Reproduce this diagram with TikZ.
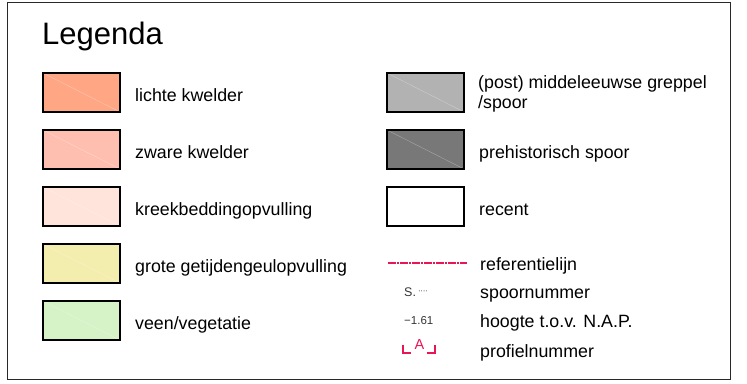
\documentclass[tikz,border=0pt]{standalone}
\usepackage{fontspec}
\setmainfont{Liberation Sans}
\usepackage{xcolor}
\definecolor{lgsalmon}{RGB}{255,166,132}
\definecolor{lgrose}{RGB}{255,191,176}
\definecolor{lgblush}{RGB}{255,228,220}
\definecolor{lgsand}{RGB}{243,237,174}
\definecolor{lgmoss}{RGB}{214,242,199}
\definecolor{lgsilver}{RGB}{178,178,178}
\definecolor{lgslate}{RGB}{120,120,120}
\definecolor{lgred}{RGB}{232,22,84}
\definecolor{lgframe}{RGB}{40,40,40}
\usetikzlibrary{positioning}

\begin{document}
\begin{tikzpicture}[x=1pt,y=-1pt,
    swatch/.style={draw=black,line width=1.5pt,minimum width=77pt,minimum height=39pt,
      inner sep=0pt,
      path picture={\draw[white,opacity=.35,line width=.4pt]
        (path picture bounding box.north west) -- (path picture bounding box.south east);}},
    label/.style={anchor=base west,inner sep=0pt,font=\fontsize{17.8}{19}\selectfont,align=left},
    small/.style={anchor=base west,inner sep=0pt,text=black!80},
    refline/.style={lgred,line width=1.4pt,dash pattern=on 8pt off 1.2pt on 1.6pt off 1.2pt}]
  \useasboundingbox (0,0) rectangle (747,383);
  %% Frame
  \draw[lgframe,line width=1pt] (7,2) rectangle (730,379);
  \node[anchor=base west,inner sep=0pt,font=\fontsize{31}{31}\selectfont] (title) at (42,44) {Legenda};
  %% Left column
  \node[swatch,fill=lgsalmon] (sw1) at (81.5,92.5) {};
  \node[label] (lb1) at (135,101) {lichte kwelder};
  \node[swatch,fill=lgrose] (sw2) at (81.5,149.5) {};
  \node[label] (lb2) at (135,158) {zware kwelder};
  \node[swatch,fill=lgblush] (sw3) at (81.5,206.5) {};
  \node[label] (lb3) at (135,215) {kreekbeddingopvulling};
  \node[swatch,fill=lgsand] (sw4) at (81.5,263.5) {};
  \node[label] (lb4) at (135,272) {grote getijdengeulopvulling};
  \node[swatch,fill=lgmoss] (sw5) at (81.5,320.5) {};
  \node[label] (lb5) at (135,329) {veen/vegetatie};
  %% Right column
  \node[swatch,fill=lgsilver] (sw6) at (425.5,92.5) {};
  \node[label,font=\fontsize{17.8}{20}\selectfont] (lb6) at (478,108.5) {(post) middeleeuwse greppel\\/spoor};
  \node[swatch,fill=lgslate] (sw7) at (425.5,149.5) {};
  \node[label] (lb7) at (479,158) {prehistorisch spoor};
  \node[swatch,fill=white] (sw8) at (425.5,206.5) {};
  \node[label] (lb8) at (479,215) {recent};
  %% Symbols
  \coordinate (refa) at (388,263);
  \coordinate (refb) at (467,263);
  \draw[refline] (refa) -- (refb);
  \node[label] (lb9) at (480,270) {referentielijn};
  \node[small,font=\fontsize{12.5}{12.5}\selectfont] (spnr) at (404,296)
    {S.\,{\fontsize{8}{8}\selectfont\raisebox{3pt}{·\kern-.3pt·\kern-.3pt·\kern-.3pt·}}};
  \node[label] (lb10) at (480,298) {spoornummer};
  \node[small,font=\fontsize{11.5}{11.5}\selectfont] (hgt) at (404,324) {−1.61};
  \node[label] (lb11) at (480,327) {hoogte t.o.v. N.A.P.};
  \node[small,text=lgred,font=\fontsize{14.5}{14.5}\selectfont] (prof) at (414.5,349) {A};
  \draw[lgred,line width=1.4pt] (403,344.5) -- (403,353) -- (411,353);
  \draw[lgred,line width=1.4pt] (427,353) -- (435,353) -- (435,344.5);
  \node[label] (lb12) at (480,357) {profielnummer};
\end{tikzpicture}
\end{document}
